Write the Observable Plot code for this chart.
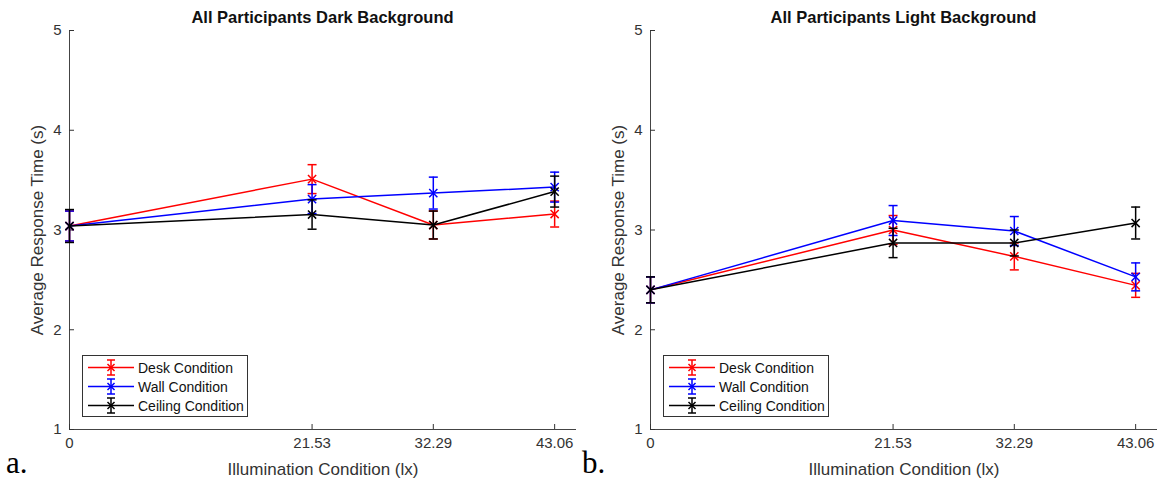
<!DOCTYPE html>
<html>
<head>
<meta charset="utf-8">
<script src="https://cdn.jsdelivr.net/npm/d3@7"></script>
<script src="https://cdn.jsdelivr.net/npm/@observablehq/plot@0.6"></script>
<style>
  html, body { margin: 0; padding: 0; background: #fff; }
  #wrap { position: relative; width: 1159px; height: 482px; overflow: hidden; font-family: "Liberation Sans", Arial, sans-serif; }
  .panel { position: absolute; top: 0; height: 482px; }
  .title { position: absolute; top: 9px; line-height: 16px; font-weight: bold; font-size: 16.5px; color: #111; text-align: center; white-space: nowrap; transform: translateX(-50%); }
  .letter { position: absolute; top: 447px; line-height: 32px; font-family: "Liberation Serif", "Times New Roman", serif; font-size: 31px; color: #000; }
  .legend { position: absolute; border: 1px solid #333; background: #fff; box-sizing: border-box; padding: 2px 0; }
  .legend .row { display: flex; align-items: center; height: 19px; }
  .legend .row span { font-size: 14px; color: #111; margin-left: 4px; white-space: nowrap; }
</style>
</head>
<body>
<div id="wrap"></div>
<script>
// ---- data ----
const xTicks = [0, 21.53, 32.29, 43.06];
const seriesNames = ["Desk Condition", "Wall Condition", "Ceiling Condition"];
const seriesColors = ["#ff0000", "#0000ff", "#000000"];

const darkTitle = "All Participants Dark Background";
const darkDesk = [3.04, 3.51, 3.05, 3.16];
const darkDeskErr = [0.15, 0.145, 0.14, 0.13];
const darkWall = [3.04, 3.31, 3.37, 3.43];
const darkWallErr = [0.15, 0.145, 0.16, 0.15];
const darkCeiling = [3.04, 3.155, 3.05, 3.385];
const darkCeilingErr = [0.165, 0.147, 0.14, 0.155];

const lightTitle = "All Participants Light Background";
const lightDesk = [2.40, 3.00, 2.735, 2.445];
const lightDeskErr = [0.13, 0.145, 0.135, 0.12];
const lightWall = [2.40, 3.095, 2.99, 2.53];
const lightWallErr = [0.13, 0.15, 0.145, 0.14];
const lightCeiling = [2.40, 2.87, 2.87, 3.07];
const lightCeilingErr = [0.13, 0.147, 0.13, 0.16];

const yTicks = [1, 2, 3, 4, 5];
const xLabel = "Illumination Condition (lx)";
const yLabel = "Average Response Time (s)";

// ---- chart ----
const capSymbol = { draw(context) { context.moveTo(-4.5, 0); context.lineTo(4.5, 0); } };

function rowsOf(means, errs) {
  return means.map((m, i) => ({ x: xTicks[i], y: m, err: errs[i] }));
}

function makeChart(seriesData, opts) {
  const marks = [
    Plot.ruleX([0], { stroke: "#444", strokeWidth: 1 }),
    Plot.ruleY([1], { stroke: "#444", strokeWidth: 1 }),
    Plot.axisX({ ticks: xTicks, tickFormat: d => String(d), tickSize: -5, tickPadding: 13, fontSize: 15, color: "#333",
      label: null }),
    Plot.axisX({ ticks: [], label: xLabel, labelAnchor: "center", labelArrow: "none", labelOffset: 45, fontSize: 17, color: "#333" }),
    Plot.axisY({ ticks: yTicks, tickFormat: d => String(d), tickSize: -5, tickPadding: 13, fontSize: 15, color: "#333",
      label: null }),
    Plot.axisY({ ticks: [], label: yLabel, labelAnchor: "center", labelArrow: "none", labelOffset: 39, fontSize: 17, color: "#333" })
  ];
  seriesData.forEach((rows, i) => {
    const c = seriesColors[i];
    marks.push(
      Plot.line(rows, { x: "x", y: "y", stroke: c, strokeWidth: 1.5 }),
      Plot.ruleX(rows, { x: "x", y1: d => d.y - d.err, y2: d => d.y + d.err, stroke: c, strokeWidth: 1.5 }),
      Plot.dot(rows, { x: "x", y: d => d.y + d.err, symbol: capSymbol, r: 4, fill: "none", stroke: c, strokeWidth: 1.5 }),
      Plot.dot(rows, { x: "x", y: d => d.y - d.err, symbol: capSymbol, r: 4, fill: "none", stroke: c, strokeWidth: 1.5 }),
      Plot.dot(rows, { x: "x", y: "y", symbol: "times", r: 3.8, fill: "none", stroke: c, strokeWidth: 1.5 })
    );
  });
  return Plot.plot({
    width: opts.width, height: 482,
    marginLeft: opts.marginLeft, marginRight: opts.marginRight, marginTop: 30, marginBottom: 53,
    style: { fontFamily: "'Liberation Sans', Arial, sans-serif", color: "#333", background: "transparent", overflow: "visible" },
    x: { domain: [0, 45] },
    y: { domain: [1, 5] },
    marks
  });
}

function makeLegend() {
  const lg = document.createElement("div");
  lg.className = "legend";
  seriesNames.forEach((name, i) => {
    const c = seriesColors[i];
    const row = document.createElement("div");
    row.className = "row";
    const svg = d3.create("svg").attr("width", 51).attr("height", 19);
    svg.append("line").attr("x1", 5).attr("x2", 51).attr("y1", 9.5).attr("y2", 9.5).attr("stroke", c).attr("stroke-width", 1.5);
    svg.append("line").attr("x1", 28).attr("x2", 28).attr("y1", 2).attr("y2", 17).attr("stroke", c).attr("stroke-width", 1.5);
    svg.append("line").attr("x1", 24).attr("x2", 32).attr("y1", 2).attr("y2", 2).attr("stroke", c).attr("stroke-width", 1.5);
    svg.append("line").attr("x1", 24).attr("x2", 32).attr("y1", 17).attr("y2", 17).attr("stroke", c).attr("stroke-width", 1.5);
    svg.append("path").attr("d", d3.symbol(d3.symbolTimes, 34)()).attr("transform", "translate(28,9.5)")
      .attr("fill", "none").attr("stroke", c).attr("stroke-width", 1.5);
    row.appendChild(svg.node());
    const t = document.createElement("span");
    t.textContent = name;
    row.appendChild(t);
    lg.appendChild(row);
  });
  return lg;
}

function addPanel(left, width, marginLeft, marginRight, title, letter, letterLeft, seriesData) {
  const panel = document.createElement("div");
  panel.className = "panel";
  panel.style.left = left + "px";
  panel.style.width = width + "px";
  panel.appendChild(makeChart(seriesData, { width, marginLeft, marginRight }));
  const tt = document.createElement("div");
  tt.className = "title";
  tt.textContent = title;
  tt.style.left = (marginLeft + (width - marginLeft - marginRight) / 2) + "px";
  panel.appendChild(tt);
  const lg = makeLegend();
  lg.style.left = (marginLeft + 13) + "px";
  lg.style.top = "355px";
  lg.style.width = "166px";
  lg.style.height = "62px";
  panel.appendChild(lg);
  const lt = document.createElement("div");
  lt.className = "letter";
  lt.textContent = letter;
  lt.style.left = letterLeft + "px";
  panel.appendChild(lt);
  document.getElementById("wrap").appendChild(panel);
}

addPanel(0, 579, 69, 3, darkTitle, "a.", 6, [
  rowsOf(darkDesk, darkDeskErr), rowsOf(darkWall, darkWallErr), rowsOf(darkCeiling, darkCeilingErr)
]);
addPanel(579, 580, 71, 2, lightTitle, "b.", 3, [
  rowsOf(lightDesk, lightDeskErr), rowsOf(lightWall, lightWallErr), rowsOf(lightCeiling, lightCeilingErr)
]);
</script>
</body>
</html>
